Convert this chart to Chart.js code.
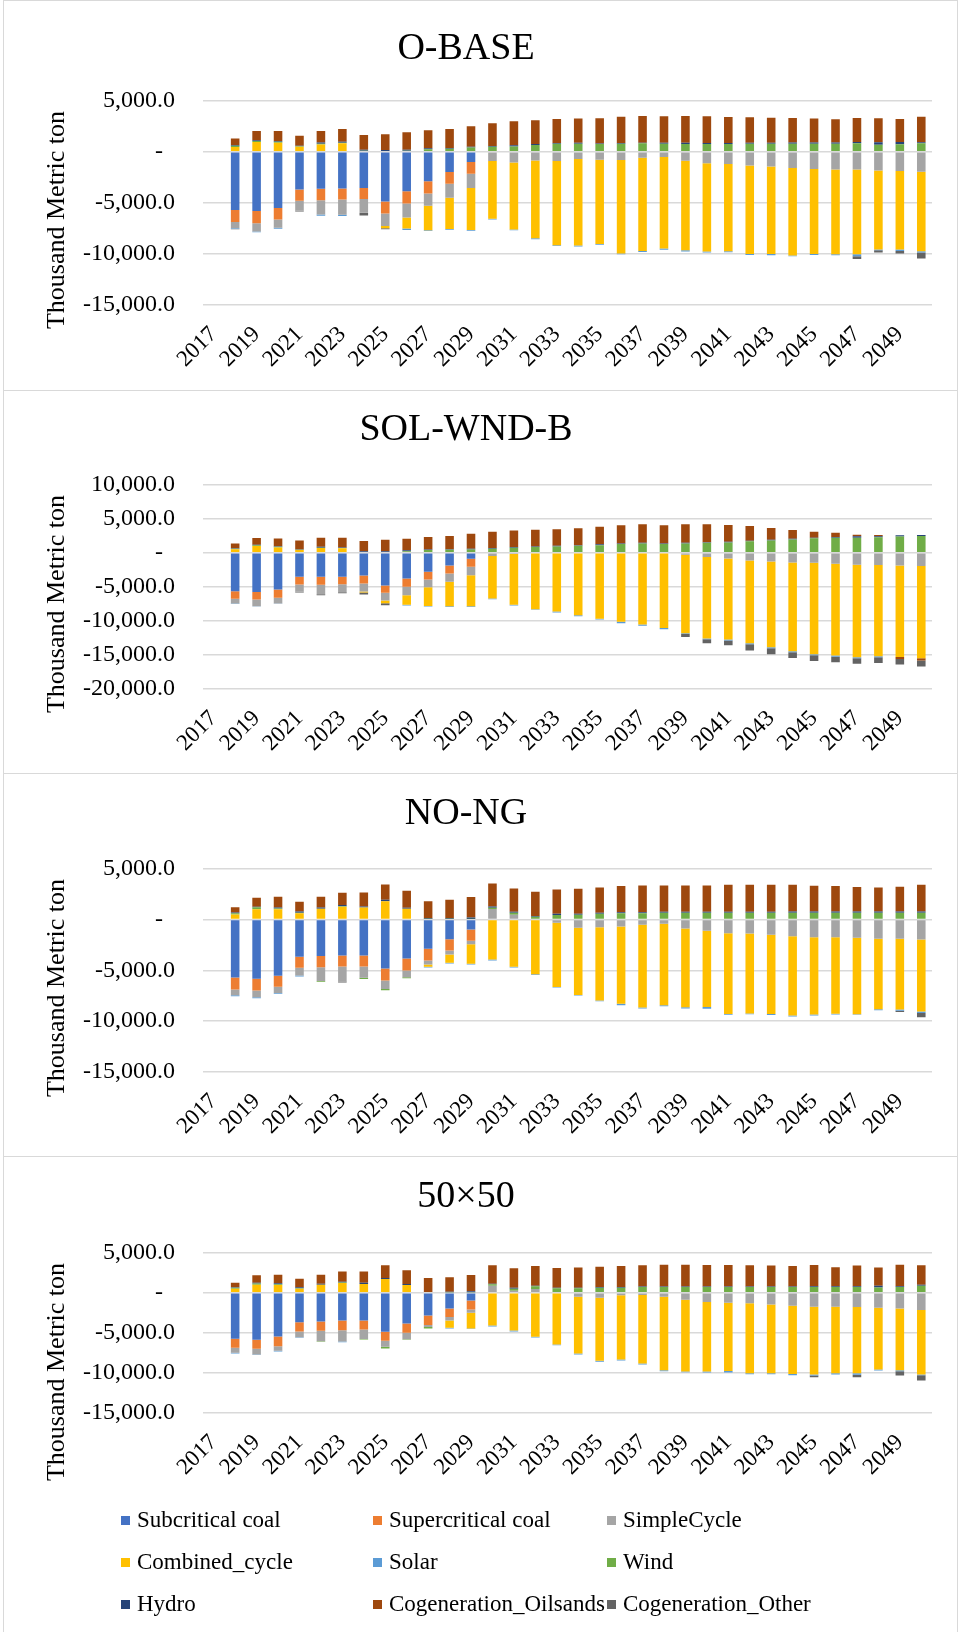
<!DOCTYPE html>
<html>
<head>
<meta charset="utf-8">
<title>Emission changes by generation type</title>
<script src="https://cdn.jsdelivr.net/npm/chart.js@4.4.1/dist/chart.umd.min.js"></script>
<style>
  html, body { margin: 0; padding: 0; background: #ffffff; }
  body { width: 960px; height: 1632px; position: relative; overflow: hidden;
         font-family: "Liberation Serif", "Times New Roman", serif; }
  .frame { position: absolute; left: 3px; width: 955px; box-sizing: border-box;
           border: 1px solid #d9d9d9; }
  canvas { position: absolute; left: 0; }
  .legend-item { position: absolute; height: 28px; display: flex; align-items: center;
                 font-size: 23px; color: #000; white-space: nowrap; }
  .legend-swatch { width: 9px; height: 9px; margin-right: 7px; flex: none; }
</style>
</head>
<body>
<script>
// ---- categories and series ----
const YEARS = ['2017','2018','2019','2020','2021','2022','2023','2024','2025','2026','2027','2028',
  '2029','2030','2031','2032','2033','2034','2035','2036','2037','2038','2039','2040','2041','2042',
  '2043','2044','2045','2046','2047','2048','2049','2050'];

const SERIES_NAMES = ['Subcritical coal', 'Supercritical coal', 'SimpleCycle', 'Combined_cycle',
  'Solar', 'Wind', 'Hydro', 'Cogeneration_Oilsands', 'Cogeneration_Other'];
const SERIES_COLORS = ['#4472C4', '#ED7D31', '#A5A5A5', '#FFC000', '#5B9BD5', '#70AD47',
  '#264478', '#9E480E', '#636363'];

// ---- O-BASE (thousand metric ton) ----
const OBASE_SUBCRITICAL = [0,-5700,-5800,-5520,-3690,-3630,-3600,-3560,-4870,-3860,-2880,-1990,-1010,0,0,0,0,0,0,0,0,0,0,0,0,0,0,0,0,0,0,0,0,0];
const OBASE_SUPERCRITICAL = [0,-1180,-1200,-1110,-1110,-1110,-1080,-1080,-1180,-1210,-1210,-1140,-1140,0,0,0,0,0,0,0,0,0,0,0,0,0,0,0,0,0,0,0,0,0];
const OBASE_SIMPLECYCLE = [0,-620,-800,-820,-980,-1400,-1500,-1340,-1210,-1370,-1210,-1370,-1400,-900,-1050,-850,-920,-720,-780,-820,-590,-520,-880,-1140,-1210,-1340,-1440,-1600,-1700,-1730,-1730,-1830,-1900,-1960];
const OBASE_COMBINED = [0,450,950,880,480,700,820,0,-230,-1080,-2390,-3070,-4120,-5650,-6570,-7610,-8230,-8460,-8240,-9150,-9120,-8950,-8760,-8630,-8530,-8660,-8560,-8560,-8300,-8300,-8300,-7750,-7680,-7780];
const OBASE_SOLAR = [0,-60,-80,-80,0,-130,-100,0,0,-130,-60,-60,-60,-80,-60,-100,-80,-100,-80,-60,-100,-130,-130,-100,-100,-100,-130,-80,-100,-100,-200,-60,-130,-130];
const OBASE_WIND = [0,120,100,100,60,80,60,100,80,100,230,290,420,490,520,650,780,780,750,780,820,780,750,750,750,780,780,780,780,780,820,690,720,820];
const OBASE_HYDRO = [0,80,80,60,30,120,100,100,80,80,100,60,60,60,100,100,80,100,60,80,60,100,120,100,100,100,100,130,130,130,130,230,230,100];
const OBASE_OILSANDS = [0,650,900,990,1000,1130,1240,1430,1540,1720,1760,1870,2000,2230,2350,2320,2340,2360,2460,2570,2620,2580,2630,2610,2550,2490,2450,2390,2330,2260,2350,2350,2250,2510];
const OBASE_COGEN_OTHER = [0,-30,0,0,-80,0,0,-260,-100,0,0,0,0,0,0,0,0,0,0,0,0,0,0,0,0,0,0,0,0,0,-260,-230,-260,-590];

// ---- SOL-WND-B ----
const SOLWND_SUBCRITICAL = [0,-5640,-5780,-5390,-3530,-3530,-3530,-3330,-4800,-3770,-2790,-1860,-880,0,0,0,0,0,0,0,0,0,0,0,0,0,0,0,0,0,0,0,0,0];
const SOLWND_SUPERCRITICAL = [0,-1130,-1080,-1220,-1130,-1180,-1080,-1180,-1080,-1230,-1130,-1180,-1180,0,0,0,0,0,0,0,0,0,0,0,0,0,0,0,0,0,0,0,0,0];
const SOLWND_SIMPLECYCLE = [0,-690,-980,-830,-1080,-1370,-1180,-1180,-1130,-1230,-1130,-1230,-1230,-490,-200,-100,0,0,0,0,0,0,-300,-640,-830,-1130,-1270,-1420,-1470,-1620,-1760,-1810,-1860,-1960];
const SOLWND_COMBINED = [0,500,1000,780,390,690,640,-150,-390,-1420,-2750,-3580,-4560,-6220,-7450,-8180,-8620,-9160,-9700,-10140,-10530,-11030,-11520,-11960,-11910,-12150,-12590,-13040,-13430,-13480,-13570,-13380,-13430,-13520];
const SOLWND_SOLAR = [0,-50,-50,-50,0,0,0,0,0,-100,-100,-100,-100,-100,-100,-100,-150,-150,-100,-200,-200,-200,-100,-100,-150,-150,-150,-150,-150,-150,-150,-150,0,0];
const SOLWND_WIND = [0,100,100,100,50,50,50,100,100,200,390,440,490,590,740,830,930,1030,1080,1270,1370,1270,1370,1470,1520,1670,1810,1960,2110,2210,2210,2260,2400,2450];
const SOLWND_HYDRO = [0,50,80,80,50,150,80,100,100,150,100,80,100,100,100,80,80,80,150,80,80,80,80,80,80,80,80,100,100,100,200,150,150,150];
const SOLWND_OILSANDS = [0,720,980,1140,1320,1310,1430,1520,1710,1710,1810,1930,2200,2400,2440,2470,2420,2470,2590,2670,2720,2670,2720,2620,2470,2170,1740,1270,880,630,240,190,-290,-340];
const SOLWND_COGEN_OTHER = [0,0,0,0,-100,-150,-150,-300,-300,0,0,0,0,0,0,0,0,0,0,0,0,0,-440,-590,-690,-930,-880,-830,-830,-830,-830,-830,-830,-880];

// ---- NO-NG ----
const NONG_SUBCRITICAL = [0,-5710,-5840,-5540,-3670,-3600,-3540,-3540,-4820,-3840,-2890,-1940,-980,0,0,0,0,0,0,0,0,0,0,0,0,0,0,0,0,0,0,0,0,0];
const NONG_SUPERCRITICAL = [0,-1180,-1150,-1080,-1080,-1110,-1080,-1080,-1180,-1180,-1150,-1110,-1110,0,0,0,0,0,0,0,0,0,0,0,0,0,0,0,0,0,0,0,0,0];
const NONG_SIMPLECYCLE = [0,-560,-660,-620,-750,-1340,-1480,-1110,-850,-660,-390,-390,-360,1020,460,0,-330,-820,-760,-690,-520,-430,-890,-1110,-1350,-1380,-1510,-1640,-1740,-1740,-1800,-1900,-1900,-1970];
const NONG_COMBINED = [0,490,1000,1000,620,1050,1250,1180,1800,1050,-230,-820,-1900,-3930,-4660,-5380,-6300,-6600,-7220,-7610,-8140,-8010,-7740,-7510,-7940,-7870,-7780,-7810,-7610,-7540,-7510,-6920,-6950,-7090];
const NONG_SOLAR = [0,-100,-100,-70,-100,0,0,0,0,0,-70,-70,-70,-100,-70,-70,-70,-70,-70,-130,-100,-100,-130,-160,-70,-70,-100,-100,-100,-70,-70,-100,-130,-130];
const NONG_WIND = [0,130,200,80,50,-70,50,-130,-100,-100,50,50,50,130,200,260,430,460,560,620,620,650,650,650,650,650,650,650,650,650,650,650,650,650];
const NONG_HYDRO = [0,60,60,100,100,130,130,100,130,100,60,60,130,130,100,70,130,100,100,100,100,100,100,100,100,100,100,130,130,130,130,130,130,130];
const NONG_OILSANDS = [0,530,870,1050,970,1050,1190,1380,1510,1670,1690,1830,2020,2260,2290,2390,2390,2460,2490,2560,2630,2600,2600,2600,2660,2660,2660,2630,2530,2500,2400,2370,2430,2630];
const NONG_COGEN_OTHER = [0,0,0,0,0,0,-100,0,0,0,0,0,0,0,0,0,0,0,0,0,0,0,0,0,0,0,0,0,0,0,0,0,-130,-430];

// ---- 50x50 ----
const FIFTY_SUBCRITICAL = [0,-5750,-5870,-5460,-3670,-3580,-3460,-3460,-4880,-3830,-2830,-1960,-960,0,0,0,0,0,0,0,0,0,0,0,0,0,0,0,0,0,0,0,0,0];
const FIFTY_SUPERCRITICAL = [0,-1120,-1120,-1210,-1170,-1170,-1210,-1130,-1120,-1170,-1210,-1080,-1120,0,0,0,0,0,0,0,0,0,0,0,0,0,0,0,0,0,0,0,0,0];
const FIFTY_SIMPLECYCLE = [0,-620,-710,-580,-710,-1290,-1420,-1170,-750,-790,-250,-420,-420,880,250,460,0,-500,-630,-330,-290,-500,-880,-1170,-1250,-1330,-1460,-1630,-1750,-1750,-1790,-1880,-1960,-2170];
const FIFTY_COMBINED = [0,500,1000,960,500,1000,1210,1080,1710,960,0,-920,-1960,-4080,-4710,-5500,-6460,-7080,-7870,-8000,-8540,-9170,-8960,-8670,-8500,-8710,-8580,-8500,-8460,-8290,-8250,-7710,-7710,-8040];
const FIFTY_SOLAR = [0,-80,-80,-80,-80,0,-80,0,0,0,0,-80,-80,-120,-120,-80,-80,-120,-120,-120,-120,-120,-80,-120,-200,-120,-120,-160,-120,-160,-200,-120,-120,-80];
const FIFTY_WIND = [0,120,150,80,50,-80,50,-80,-200,-80,-170,50,50,170,250,330,540,540,620,620,700,700,700,700,700,700,700,700,700,700,700,660,700,870];
const FIFTY_HYDRO = [0,60,80,150,120,120,120,150,120,120,80,80,120,80,120,80,80,80,80,80,80,80,80,80,80,80,80,80,100,100,100,200,100,120];
const FIFTY_OILSANDS = [0,570,940,1060,1080,1130,1250,1400,1590,1710,1750,1790,2040,2290,2420,2460,2460,2510,2550,2630,2640,2720,2720,2680,2680,2640,2600,2550,2660,2370,2580,2270,2700,2430];
const FIFTY_COGEN_OTHER = [0,0,0,0,0,0,0,0,0,0,0,0,0,0,0,0,0,0,0,0,0,0,0,0,0,0,0,0,-210,0,-290,0,-540,-670];

// ---- panel layout ----
const SERIF = '"Liberation Serif", "Times New Roman", serif';
const PANELS = [
  { title: 'O-BASE', top: 0, height: 390, min: -15000, max: 5000, titlePad: [26, 29], xAxisHeight: 85, axisTitleY: 220,
    series: [OBASE_SUBCRITICAL, OBASE_SUPERCRITICAL, OBASE_SIMPLECYCLE, OBASE_COMBINED, OBASE_SOLAR, OBASE_WIND, OBASE_HYDRO, OBASE_OILSANDS, OBASE_COGEN_OTHER] },
  { title: 'SOL-WND-B', top: 390, height: 383, min: -20000, max: 10000, titlePad: [17, 32], xAxisHeight: 84, axisTitleY: 214,
    series: [SOLWND_SUBCRITICAL, SOLWND_SUPERCRITICAL, SOLWND_SIMPLECYCLE, SOLWND_COMBINED, SOLWND_SOLAR, SOLWND_WIND, SOLWND_HYDRO, SOLWND_OILSANDS, SOLWND_COGEN_OTHER] },
  { title: 'NO-NG', top: 773, height: 383, min: -15000, max: 5000, titlePad: [18, 32], xAxisHeight: 84, axisTitleY: 215,
    series: [NONG_SUBCRITICAL, NONG_SUPERCRITICAL, NONG_SIMPLECYCLE, NONG_COMBINED, NONG_SOLAR, NONG_WIND, NONG_HYDRO, NONG_OILSANDS, NONG_COGEN_OTHER] },
  { title: '50×50', top: 1156, height: 476, min: -15000, max: 5000, titlePad: [18, 33], xAxisHeight: 219, axisTitleY: 216,
    series: [FIFTY_SUBCRITICAL, FIFTY_SUPERCRITICAL, FIFTY_SIMPLECYCLE, FIFTY_COMBINED, FIFTY_SOLAR, FIFTY_WIND, FIFTY_HYDRO, FIFTY_OILSANDS, FIFTY_COGEN_OTHER] }
];

// Rotated value-axis caption drawn at a fixed spot left of the tick labels.
const axisCaption = {
  id: 'axisCaption',
  afterDraw(chart, args, opts) {
    const ctx = chart.ctx;
    ctx.save();
    ctx.translate(opts.x, opts.y);
    ctx.rotate(-Math.PI / 2);
    ctx.font = '26px ' + SERIF;
    ctx.fillStyle = '#000000';
    ctx.textAlign = 'center';
    ctx.textBaseline = 'middle';
    ctx.fillText(opts.text, 0, 0);
    ctx.restore();
  }
};

function formatTick(v) {
  if (v === 0) return '-  ';
  return v.toLocaleString('en-US', { minimumFractionDigits: 1, maximumFractionDigits: 1 });
}

const charts = PANELS.map(p => {
  const frame = document.createElement('div');
  frame.className = 'frame';
  frame.style.top = p.top + 'px';
  frame.style.height = (p.height + 1) + 'px';
  document.body.appendChild(frame);

  const canvas = document.createElement('canvas');
  canvas.width = 960;
  canvas.height = p.height;
  canvas.style.top = p.top + 'px';
  document.body.appendChild(canvas);

  return new Chart(canvas, {
    type: 'bar',
    data: {
      labels: YEARS,
      datasets: SERIES_NAMES.map((name, i) => ({
        label: name,
        data: p.series[i],
        backgroundColor: SERIES_COLORS[i],
        borderWidth: 0,
        categoryPercentage: 1.0,
        barPercentage: 0.4
      }))
    },
    options: {
      responsive: false,
      animation: false,
      devicePixelRatio: 1,
      layout: { padding: { left: 0, right: 28, top: 0, bottom: 0 } },
      plugins: {
        legend: { display: false },
        tooltip: { enabled: false },
        title: {
          display: true, text: p.title, color: '#000000',
          font: { family: SERIF, size: 38, weight: 'normal', lineHeight: 1.2 },
          padding: { top: p.titlePad[0], bottom: p.titlePad[1] }
        },
        axisCaption: { text: 'Thousand Metric ton', x: 57, y: p.axisTitleY }
      },
      scales: {
        x: {
          stacked: true,
          grid: { display: false },
          border: { display: false },
          ticks: {
            autoSkip: false, minRotation: 45, maxRotation: 45, padding: 8,
            color: '#000000', font: { family: SERIF, size: 23 },
            callback: (v, i) => (i % 2 === 0 ? YEARS[i] : '')
          },
          afterFit: s => { s.height = p.xAxisHeight; }
        },
        y: {
          stacked: true,
          min: p.min, max: p.max,
          grid: { color: '#D9D9D9', lineWidth: 1.5, drawTicks: false },
          border: { display: false },
          ticks: {
            stepSize: 5000, padding: 28,
            color: '#000000', font: { family: SERIF, size: 24 },
            callback: v => formatTick(v)
          },
          afterFit: s => { s.width = 203; }
        }
      }
    },
    plugins: [axisCaption]
  });
});

// Legend for the whole figure, built from the last chart's datasets (3 columns x 3 rows).
const LEGEND_COLUMNS = [121, 373, 607];
const LEGEND_ROWS = [1520, 1562, 1604];
const legendItems = charts[3].options.plugins.legend.labels.generateLabels(charts[3]);
legendItems.forEach((item, i) => {
  const el = document.createElement('div');
  el.className = 'legend-item';
  el.style.left = LEGEND_COLUMNS[i % 3] + 'px';
  el.style.top = (LEGEND_ROWS[Math.floor(i / 3)] - 14) + 'px';
  const sw = document.createElement('span');
  sw.className = 'legend-swatch';
  sw.style.background = item.fillStyle;
  const tx = document.createElement('span');
  tx.textContent = item.text;
  el.appendChild(sw);
  el.appendChild(tx);
  document.body.appendChild(el);
});
</script>
</body>
</html>
